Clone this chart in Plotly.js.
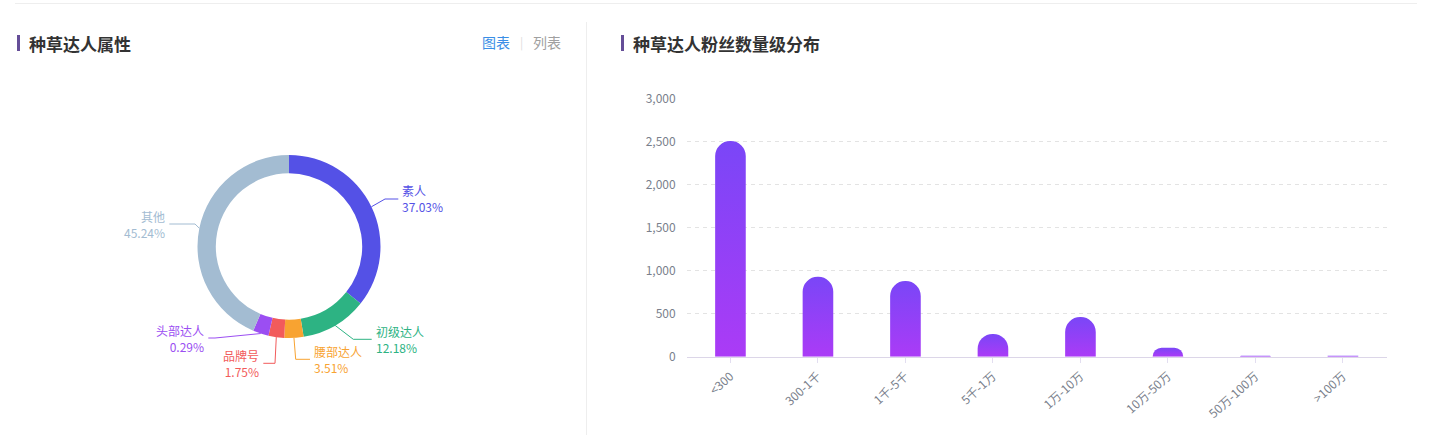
<!DOCTYPE html>
<html>
<head>
<meta charset="utf-8">
<script src="https://cdn.plot.ly/plotly-3.0.1.min.js"></script>
<style>
html,body{margin:0;padding:0;background:#fff;}
#chart{width:1432px;height:435px;}
</style>
</head>
<body>
<div id="chart"></div>
<script>
// ---------- DATA ----------
const pieLabels = ['素人', '初级达人', '腰部达人', '品牌号', '头部达人', '其他'];
const piePercents = [37.03, 12.18, 3.51, 1.75, 0.29, 45.24];

const barCategories = ['<300', '300-1千', '1千-5千', '5千-1万', '1万-10万', '10万-50万', '50万-100万', '>100万'];
const barValues = [2510, 930, 880, 265, 462, 105, 12, 10];

const yTickValues = [0, 500, 1000, 1500, 2000, 2500, 3000];

// ---------- STYLE ----------
const W = 1432, H = 435;
const FONT = '"Noto Sans CJK SC", "Microsoft YaHei", sans-serif';
const pieColors = ['#5451e6', '#2db383', '#f8a331', '#f25b5b', '#9b4ef2', '#a3bcd2'];
const PIE_CX = 289, PIE_CY = 246.5, PIE_R = 91.5;
const MIN_ANGLE = 10; // degrees, like the source chart's minimum slice angle
// label line geometry (pixels relative to pie centre)
const labelLayout = [
  {elbow: [96, -47.5], end: 109.3, side: 'right'},
  {elbow: [64.3, 92.8], end: 82.7, side: 'right'},
  {elbow: [6.7, 112.8], end: 21, side: 'right'},
  {elbow: [-14, 116.8], end: -25.7, side: 'left'},
  {elbow: [-74, 91.5], end: -80.7, side: 'left'},
  {elbow: [-94, -22.5], end: -119.7, side: 'left'}
];

const X = px => px / W;
const Y = py => 1 - py / H;

// minimum angle handling (slices smaller than MIN_ANGLE get MIN_ANGLE)
function applyMinAngle(vals, minDeg) {
  const total = vals.reduce((a, b) => a + b, 0);
  const small = vals.map(v => v / total * 360 < minDeg);
  const nSmall = small.filter(s => s).length;
  const restTotal = vals.reduce((a, v, i) => a + (small[i] ? 0 : v), 0);
  const remaining = 360 - nSmall * minDeg;
  return vals.map((v, i) => small[i] ? minDeg : v / restTotal * remaining);
}
const pieAngles = applyMinAngle(piePercents, MIN_ANGLE);

// ---------- TRACES ----------
const pieTrace = {
  type: 'pie',
  values: pieAngles,
  labels: pieLabels,
  sort: false,
  direction: 'clockwise',
  rotation: 0,
  hole: 0.8,
  textinfo: 'none',
  hoverinfo: 'skip',
  marker: {colors: pieColors, line: {width: 0}},
  showlegend: false,
  domain: {x: [X(PIE_CX - PIE_R), X(PIE_CX + PIE_R)], y: [Y(PIE_CY + PIE_R), Y(PIE_CY - PIE_R)]}
};

const barTrace = {
  type: 'bar',
  x: barCategories,
  y: barValues,
  xaxis: 'x',
  yaxis: 'y',
  marker: {color: '#9140f7', cornerradius: '50%', line: {width: 0}},
  hoverinfo: 'skip',
  showlegend: false
};

// ---------- SHAPES & ANNOTATIONS ----------
const shapes = [
  {type: 'line', xref: 'paper', yref: 'paper', x0: X(15), x1: X(1417), y0: Y(3.5), y1: Y(3.5), line: {color: '#eeeeee', width: 1}},
  {type: 'line', xref: 'paper', yref: 'paper', x0: X(586.5), x1: X(586.5), y0: Y(22), y1: Y(435), line: {color: '#eeeeee', width: 1}},
  {type: 'rect', xref: 'paper', yref: 'paper', x0: X(17), x1: X(20), y0: Y(51), y1: Y(35), fillcolor: '#654e98', line: {width: 0}},
  {type: 'rect', xref: 'paper', yref: 'paper', x0: X(621), x1: X(624), y0: Y(51), y1: Y(35), fillcolor: '#654e98', line: {width: 0}}
];

const annotations = [
  {text: '种草达人属性', x: X(27), y: Y(43), xanchor: 'left', yanchor: 'middle', font: {size: 17, color: '#333', family: FONT, weight: 700}},
  {text: '种草达人粉丝数量级分布', x: X(631), y: Y(43), xanchor: 'left', yanchor: 'middle', font: {size: 17, color: '#333', family: FONT, weight: 700}},
  {text: '图表', x: X(480), y: Y(42), xanchor: 'left', yanchor: 'middle', font: {size: 14, color: '#3a8ee6', family: FONT}},
  {text: '|', x: X(521), y: Y(42), xanchor: 'center', yanchor: 'middle', font: {size: 12, color: '#dddddd', family: FONT}},
  {text: '列表', x: X(531), y: Y(42), xanchor: 'left', yanchor: 'middle', font: {size: 14, color: '#a0a0a0', family: FONT}}
];

// pie label lines and texts, positioned from each slice's mid-angle
let cum = 0;
pieAngles.forEach((ang, i) => {
  const mid = (cum + ang / 2) * Math.PI / 180;
  cum += ang;
  const ex = PIE_CX + PIE_R * Math.sin(mid);
  const ey = PIE_CY - PIE_R * Math.cos(mid);
  const L = labelLayout[i];
  const bx = PIE_CX + L.elbow[0], by = PIE_CY + L.elbow[1];
  const endx = PIE_CX + L.end;
  shapes.push({
    type: 'path', xref: 'paper', yref: 'paper',
    path: `M${X(ex)},${Y(ey)} L${X(bx)},${Y(by)} L${X(endx)},${Y(by)}`,
    line: {color: pieColors[i], width: 1}
  });
  const right = L.side === 'right';
  annotations.push({
    text: pieLabels[i] + '<br>' + piePercents[i].toFixed(2) + '%',
    x: X(endx + (right ? 3 : -3)), y: Y(by),
    xanchor: right ? 'left' : 'right', yanchor: 'middle',
    align: right ? 'left' : 'right',
    showarrow: false, borderpad: 0,
    font: {size: 12, color: pieColors[i], family: FONT}
  });
});
annotations.forEach(a => { a.xref = 'paper'; a.yref = 'paper'; if (a.showarrow === undefined) a.showarrow = false; });

const layout = {
  width: W, height: H,
  margin: {l: 0, r: 0, t: 0, b: 0},
  paper_bgcolor: '#ffffff',
  plot_bgcolor: 'rgba(0,0,0,0)',
  font: {family: FONT},
  bargap: 0.65,
  xaxis: {
    domain: [X(686.7), X(1386.7)],
    anchor: 'y',
    type: 'category',
    showgrid: false,
    showline: true, linecolor: '#dcd6e8', linewidth: 1,
    ticks: 'outside', ticklen: 5, tickcolor: '#e2def0',
    tickangle: -42,
    ticklabelstandoff: 2,
    tickfont: {size: 12, color: '#7a7f8c', family: FONT},
    zeroline: false, fixedrange: true
  },
  yaxis: {
    domain: [Y(356.7), Y(99)],
    anchor: 'x',
    range: [0, 3000],
    tickvals: yTickValues,
    tickformat: ',d',
    showgrid: true, gridcolor: '#e3e3e3', griddash: '4px,4px', gridwidth: 1,
    zeroline: false, showline: false, ticks: '',
    ticklabelstandoff: 10,
    tickfont: {size: 12, color: '#7a7f8c', family: FONT},
    fixedrange: true
  },
  shapes: shapes,
  annotations: annotations
};

Plotly.newPlot('chart', [pieTrace, barTrace], layout, {displayModeBar: false, staticPlot: true}).then(gd => {
  const svg = gd.querySelector('svg.main-svg');
  const ns = 'http://www.w3.org/2000/svg';
  let defs = svg.querySelector('defs');
  if (!defs) { defs = document.createElementNS(ns, 'defs'); svg.insertBefore(defs, svg.firstChild); }
  const grad = document.createElementNS(ns, 'linearGradient');
  grad.setAttribute('id', 'barGrad');
  grad.setAttribute('x1', '0'); grad.setAttribute('y1', '0');
  grad.setAttribute('x2', '0'); grad.setAttribute('y2', '1');
  [['0', '#7a46f7'], ['1', '#ab3bf6']].forEach(([o, c]) => {
    const s = document.createElementNS(ns, 'stop');
    s.setAttribute('offset', o); s.setAttribute('stop-color', c);
    grad.appendChild(s);
  });
  defs.appendChild(grad);
  gd.querySelectorAll('g.trace.bars path').forEach(p => { p.style.fill = 'url(#barGrad)'; });
});
</script>
</body>
</html>
